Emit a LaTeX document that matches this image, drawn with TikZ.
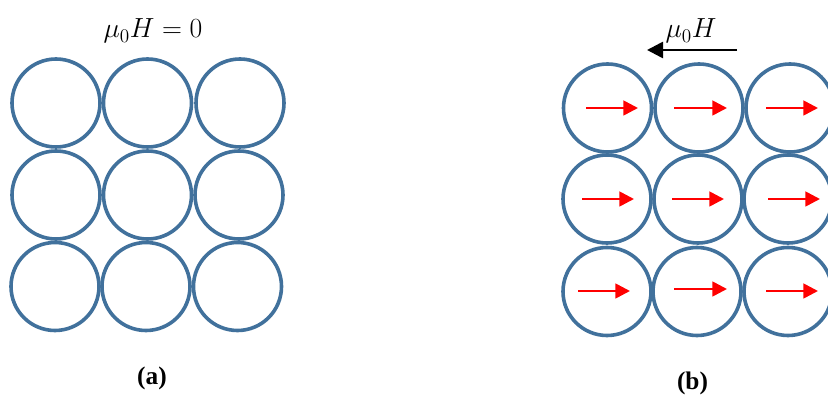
\documentclass[tikz,border=0pt]{standalone}
\usepackage{fontspec}
\usetikzlibrary{arrows.meta}
\newfontfamily\panelfont{Liberation Serif}

\begin{document}
\begin{tikzpicture}[
  x=0.75pt, y=-0.75pt,
  grain/.style={draw=grainBlue, line width=2.7pt},
  moment/.style={draw=momentRed, line width=2pt, -{Triangle[length=11pt, width=11pt]}},
  field/.style={draw=black, line width=2pt, -{Triangle[length=12pt, width=12pt]}},
  fieldlabel/.style={font=\fontsize{20}{24}\selectfont, anchor=base, inner sep=0pt},
  panellabel/.style={font=\panelfont\bfseries\fontsize{19}{22}\selectfont, inner sep=0pt},
]

\definecolor{grainBlue}{RGB}{65,113,156}
\definecolor{momentRed}{RGB}{255,0,0}

\def\grainr{44}

\useasboundingbox (0,0) rectangle (828,395);

% Helper macros: centre x, centre y / start x, end x, y.
\newcommand{\grainat}[2]{\draw[grain] (#1,#2) circle[radius=\grainr];}
\newcommand{\momentat}[3]{\draw[moment] (#1,#3) -- (#2,#3);}

% Panel (a): no field.
\node[fieldlabel] (zerofield) at (153,38) {$\mu_0 H = 0$};

% Row 1.
\grainat{56}{103}
\grainat{147.5}{103}
\grainat{240}{103}

% Row 2.
\grainat{56}{195}
\grainat{147.5}{195}
\grainat{239}{195}

% Row 3.
\grainat{55}{286.5}
\grainat{146}{286.5}
\grainat{237.5}{286.5}

\node[panellabel] (panela) at (152,378) {(a)};

% Panel (b): applied field.
\coordinate (fieldtail) at (737,50);
\coordinate (fieldhead) at (647,50);
\draw[field] (fieldtail) -- (fieldhead);
\node[fieldlabel] (appliedfield) at (691,38) {$\mu_0 H$};

% Row 1.
\grainat{607.5}{108}
\grainat{699}{108}
\grainat{790}{108}
\momentat{586}{638}{108}
\momentat{674}{727}{108}
\momentat{766}{818}{108}

% Row 2.
\grainat{607}{199}
\grainat{698}{199}
\grainat{788}{199}
\momentat{582}{634}{199}
\momentat{672}{724}{199}
\momentat{768}{820}{199}

% Row 3.
\grainat{607}{291.5}
\grainat{697}{291.5}
\grainat{788}{291.5}
\momentat{578}{630}{291}
\momentat{674}{727}{289}
\momentat{766}{818}{291}

\node[panellabel] (panelb) at (692.5,383) {(b)};

\end{tikzpicture}
\end{document}
